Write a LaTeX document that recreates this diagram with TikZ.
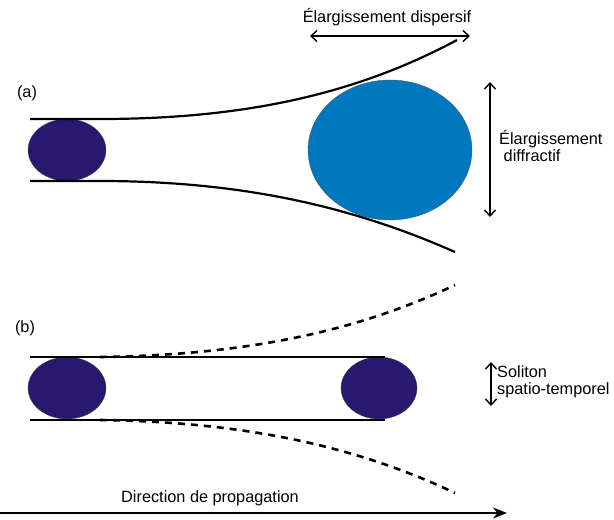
\documentclass[tikz,border=0pt]{standalone}
\usepackage{fontspec}
\setmainfont{Liberation Sans}
\usetikzlibrary{shapes.geometric,arrows.meta}
\definecolor{pulse}{RGB}{40,25,110}
\definecolor{bigblue}{RGB}{0,120,192}
\tikzset{
  beam/.style={line width=2.2pt,black},
  beamdash/.style={line width=2.6pt,black,dash pattern=on 7pt off 6pt},
  dimarrow/.style={line width=1.4pt,{Straight Barb[length=6pt,width=11pt]}-{Straight Barb[length=6pt,width=11pt]}},
  lbl/.style={font=\fontsize{16.3}{18}\selectfont,inner sep=0pt},
  smallpulse/.style={ellipse,fill=pulse,draw=black!70,line width=0.3pt,minimum width=78pt,minimum height=62pt,inner sep=0pt},
}
\begin{document}
\begin{tikzpicture}[x=1pt,y=-1pt]
\useasboundingbox (0,0) rectangle (614,520);
% (a)
\node[lbl] (la) at (27,93) {(a)};
\node[ellipse,fill=bigblue,draw=black!70,line width=0.3pt,minimum width=164pt,minimum height=140pt,inner sep=0pt] (big) at (390,150) {};
\node[smallpulse] (pa) at (67,150) {};
\draw[beam] (30,119) -- (100,119) .. controls (250,119) and (360,92) .. (457,40);
\draw[beam] (30,181) -- (100,181) .. controls (250,181) and (360,210) .. (455,252);
\coordinate (dl) at (310,36);
\coordinate (dr) at (470,36);
\draw[dimarrow] (dl) -- (dr);
\node[lbl] (tdisp) at (387,17) {Élargissement dispersif};
\coordinate (vt) at (490,82);
\coordinate (vb) at (490,217);
\draw[dimarrow] (vt) -- (vb);
\node[lbl,align=left,anchor=west] (tdiff) at (499,146) {Élargissement\\[-1pt]\ diffractif};
% (b)
\node[lbl] (lb) at (25,328) {(b)};
\draw[beamdash] (100,357) .. controls (250,355) and (360,330) .. (455,285);
\draw[beamdash] (100,420) .. controls (250,422) and (360,448) .. (455,493);
\node[smallpulse] (pb1) at (67,388) {};
\node[smallpulse,minimum width=76pt] (pb2) at (379,388) {};
\draw[beam] (30,357) -- (385,357);
\draw[beam] (30,420) -- (385,420);
\coordinate (st) at (491,362);
\coordinate (sb) at (491,406);
\draw[dimarrow] (st) -- (sb);
\node[lbl,align=left,anchor=west] (tsol) at (497,382) {Soliton\\[-1pt]spatio-temporel};
\coordinate (pl) at (0,513);
\coordinate (pr) at (507,513);
\draw[line width=1.6pt,-{Stealth[length=14pt,width=11pt]}] (pl) -- (pr);
\node[lbl] (tprop) at (210,498) {Direction de propagation};
\end{tikzpicture}
\end{document}
